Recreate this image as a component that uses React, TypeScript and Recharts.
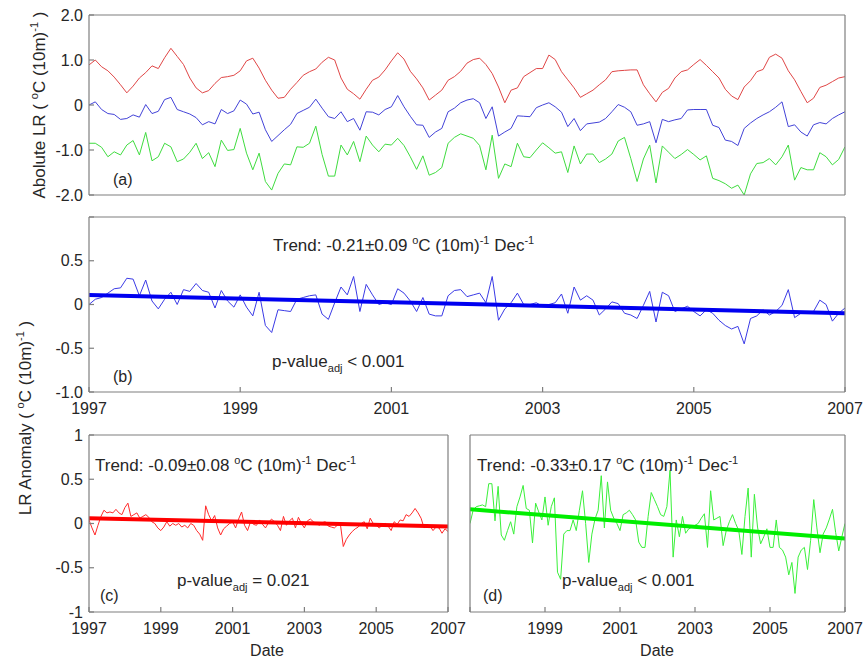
import React from 'react';
import { LineChart, Line, XAxis, YAxis } from 'recharts';

// monthly values, Jan 1997 .. Jan 2007 (121 points)
const RED_ABS = [
  0.89, 1.0, 0.85, 0.76, 0.62, 0.45, 0.27, 0.42, 0.6, 0.72,
  0.87, 0.81, 1.05, 1.26, 1.08, 0.9, 0.6, 0.38, 0.27, 0.32,
  0.48, 0.61, 0.63, 0.66, 0.76, 0.98, 1.04, 0.82, 0.55, 0.33,
  0.15, 0.17, 0.35, 0.5, 0.66, 0.74, 0.8, 0.95, 1.06, 1.0,
  0.6, 0.35, 0.25, 0.13, 0.35, 0.55, 0.62, 0.78, 0.98, 1.16,
  1.02, 0.75, 0.58, 0.38, 0.11, 0.22, 0.33, 0.55, 0.63, 0.75,
  0.93, 1.01, 1.04, 0.9, 0.7, 0.4, 0.05, 0.33, 0.38, 0.63,
  0.72, 0.81, 0.81, 1.11, 1.01, 0.74, 0.56, 0.38, 0.17, 0.25,
  0.33, 0.45, 0.56, 0.74, 0.76, 0.77, 0.78, 0.78, 0.45, 0.25,
  0.07, 0.28, 0.37, 0.6, 0.74, 0.78, 0.9, 1.01, 0.88, 0.74,
  0.6, 0.35, 0.2, 0.12, 0.4, 0.54, 0.74, 0.79, 1.06, 1.13,
  1.04, 0.76, 0.56, 0.3, 0.05, 0.15, 0.39, 0.44, 0.52, 0.6,
  0.63,
];
const BLUE_ABS = [
  0.0, 0.07, -0.1, -0.19, -0.21, -0.32, -0.3, -0.22, -0.27, 0.01,
  -0.19, -0.14, 0.12, 0.17, -0.1, -0.15, -0.2, -0.28, -0.44, -0.37,
  -0.42, -0.1, -0.19, -0.13, 0.11, 0.02, -0.2, -0.16, -0.55, -0.81,
  -0.68, -0.55, -0.43, -0.19, -0.12, -0.05, 0.13, -0.07, -0.26, -0.3,
  -0.15, -0.37, -0.3, -0.56, -0.15, -0.16, -0.22, -0.1, -0.04, 0.21,
  -0.04, -0.25, -0.44, -0.45, -0.72, -0.6, -0.52, -0.15, -0.07, 0.05,
  0.11, 0.14, 0.05, -0.3, -0.04, -0.69, -0.6, -0.52, -0.24, -0.25,
  -0.26, -0.06, 0.0, 0.05, -0.04, -0.16, -0.48, -0.3, -0.57, -0.42,
  -0.4, -0.38, -0.3, -0.15, 0.01, -0.05, -0.15, -0.45, -0.42, -0.37,
  -0.84, -0.32, -0.37, -0.33, -0.3, -0.11, -0.1, -0.1, -0.1, -0.45,
  -0.5, -0.78, -0.81, -0.9, -0.52, -0.4, -0.3, -0.22, -0.15, -0.05,
  0.07, -0.48, -0.44, -0.6, -0.69, -0.44, -0.39, -0.42, -0.3, -0.22,
  -0.15,
];
const GREEN_ABS = [
  -0.85, -0.85, -0.94, -1.15, -1.04, -1.11, -0.89, -0.79, -1.11, -0.61,
  -1.24, -1.15, -0.85, -0.93, -1.26, -1.2, -1.05, -0.85, -1.19, -1.06,
  -1.37, -0.78, -1.01, -0.99, -0.52, -1.07, -1.44, -1.07, -1.7, -1.89,
  -1.52, -1.31, -1.33, -0.93, -0.94, -0.85, -0.47, -1.1, -1.58, -1.58,
  -0.89, -1.11, -0.81, -1.26, -0.69, -0.89, -1.04, -0.87, -0.89, -0.74,
  -0.9, -1.15, -1.43, -1.13, -1.56, -1.5, -1.39, -0.85, -0.72, -0.64,
  -0.69, -0.74, -0.9, -1.44, -0.67, -1.63, -1.31, -1.37, -0.85, -1.15,
  -1.17, -1.0, -0.84, -0.95, -1.07, -1.04, -1.5, -0.91, -1.31, -1.09,
  -1.09, -1.28, -1.2, -1.09, -0.8, -0.72, -1.19, -1.7, -1.2, -0.89,
  -1.73, -0.91, -1.05, -1.19, -1.1, -0.99, -1.1, -1.22, -1.13, -1.63,
  -1.68, -1.75, -1.85, -1.78, -2.0, -1.53, -1.3, -1.28, -1.19, -1.33,
  -1.15, -0.89, -1.67, -1.39, -1.44, -1.44, -1.06, -1.15, -1.33, -1.21,
  -0.93,
];
const BLUE_ANOM = [
  0.0, 0.06, 0.08, 0.13, 0.18, 0.19, 0.3, 0.29, 0.1, 0.28,
  0.04, -0.05, 0.06, 0.14, 0.0, 0.17, 0.15, 0.24, 0.16, 0.14,
  -0.04, 0.16, 0.04, -0.03, 0.11, -0.03, -0.13, 0.14, -0.24, -0.32,
  -0.06, -0.07, -0.08, 0.06, 0.08, 0.1, 0.11, -0.11, -0.17, 0.02,
  0.2, 0.11, 0.32, -0.08, 0.23, 0.11, 0.0, 0.02, 0.0, 0.18,
  0.13, 0.04, -0.08, 0.08, -0.11, -0.13, -0.13, 0.1, 0.16, 0.17,
  0.09, 0.11, 0.13, 0.02, 0.32, -0.18, -0.05, 0.02, 0.13, 0.0,
  0.0, 0.02, -0.02, 0.0, 0.02, 0.12, -0.1, 0.2, 0.05, 0.1,
  0.05, -0.12, -0.05, 0.03, 0.01, -0.1, -0.12, -0.16, -0.01, 0.15,
  -0.2, 0.14, 0.1, -0.08, -0.05, -0.02, -0.08, -0.13, -0.06, -0.1,
  -0.18, -0.24, -0.28, -0.25, -0.45, -0.16, -0.13, -0.06, -0.12, -0.08,
  -0.01, 0.17, -0.15, -0.1, -0.1, -0.08, 0.05, 0.0, -0.19, -0.1,
  -0.04,
];
const RED_ANOM = [
  0.04, -0.05, -0.13, -0.02, 0.08, 0.15, 0.12, 0.13, 0.12, 0.16,
  0.12, 0.1, 0.18, 0.23, 0.08, 0.1, 0.12, 0.06, 0.08, 0.1,
  0.07, 0.02, 0.0, -0.05, -0.08, -0.04, 0.02, -0.03, 0.0, -0.02,
  0.0, -0.04, -0.02, -0.05, 0.0, -0.02, -0.08, -0.12, -0.19, 0.2,
  0.1, 0.03, 0.09, -0.05, -0.13, -0.06, -0.03, 0.0, 0.02, -0.05,
  0.05, 0.13, -0.02, -0.08, 0.02, -0.01, -0.02, 0.04, -0.01, -0.05,
  0.01, 0.05, 0.02, -0.02, -0.08, 0.08, -0.02, 0.03, 0.06, -0.05,
  0.07, 0.0, -0.05, 0.03, 0.05, 0.02, 0.0, -0.02, 0.01, 0.02,
  -0.03, -0.04, -0.05, -0.02, 0.0, -0.26, -0.18, -0.13, -0.09, -0.06,
  -0.04, 0.0, 0.02, -0.06, 0.06, 0.0, -0.02, -0.05, -0.02, 0.0,
  -0.03, -0.08, 0.02, -0.01, 0.04, 0.03, 0.1, 0.08, 0.12, 0.17,
  0.12, 0.06, -0.05, -0.02, -0.03, -0.08, -0.04, -0.05, -0.11, -0.06,
  -0.09,
];
const GREEN_ANOM = [
  0.0, 0.15, 0.19, 0.2, 0.21, 0.19, 0.45, 0.45, 0.03, 0.42,
  -0.13, -0.19, -0.08, 0.02, -0.12, 0.19, 0.3, 0.43, 0.17, 0.15,
  -0.22, 0.23, 0.13, 0.04, 0.3, -0.02, 0.19, 0.29, -0.55, -0.63,
  -0.12, -0.08, -0.08, 0.04, -0.08, 0.15, 0.37, 0.0, -0.44, -0.12,
  0.05, 0.15, 0.54, -0.05, 0.47, 0.15, 0.06, 0.0, -0.08, 0.1,
  0.12, 0.15, 0.1, 0.04, -0.21, -0.27, -0.27, 0.08, 0.35, 0.27,
  0.19, 0.1, 0.08, 0.19, 0.6, -0.38, 0.04, -0.15, 0.08, -0.11,
  -0.06, -0.04, -0.02, 0.0, 0.06, 0.11, -0.27, 0.37, 0.04, 0.06,
  0.08, -0.25, -0.08, 0.02, 0.1, 0.0, -0.08, -0.35, 0.08, 0.4,
  -0.38, 0.33, -0.04, -0.23, -0.15, -0.06, -0.27, -0.27, 0.04, -0.27,
  -0.3, -0.38, -0.58, -0.44, -0.79, -0.38, -0.3, -0.27, -0.52, -0.19,
  0.27, -0.05, -0.33, -0.12, -0.05, 0.05, 0.16, -0.1, -0.31, -0.15,
  0.0,
];

// fitted trend line end points (1997, 2007)
const TREND_YEARS = [1997, 2007];
const TREND_B = [0.11, -0.1];
const TREND_C = [0.06, -0.035];
const TREND_D = [0.16, -0.17];

const YEAR_TICKS = [1997, 1999, 2001, 2003, 2005, 2007];
const ABS_TICKS = [-2, -1, 0, 1, 2];
const ANOM_TICKS = [-1, -0.5, 0, 0.5, 1];

const DATES = RED_ABS.map((_, i) => 1997 + i / 12);

const absRows = DATES.map((date, i) => ({ date, red: RED_ABS[i], blue: BLUE_ABS[i], green: GREEN_ABS[i] }));
const anomRows = DATES.map((date, i) => ({ date, blue: BLUE_ANOM[i], red: RED_ANOM[i], green: GREEN_ANOM[i] }));
const trendRows = (vals: number[]) => TREND_YEARS.map((date, i) => ({ date, value: vals[i] }));

const AXIS_COLOR = '#7f7f7f';
const TEXT_COLOR = '#262626';
const FONT = '"Liberation Sans", Arial, Helvetica, sans-serif';
const PAD = { l: 70, t: 10, r: 20, b: 30 };

type Box = { x: number; y: number; w: number; h: number };
type Series = { key: string; color: string };

interface PanelProps {
  box: Box;
  rows: any[];
  series: Series[];
  trend?: { values: number[]; color: string };
  yDomain: [number, number];
  yTicks: number[];
  yFormat?: (v: number) => string;
  xLabels: boolean;
  xFormat?: (v: number) => string;
}

const tickStyle = { fill: TEXT_COLOR, fontSize: 16, fontFamily: FONT };

function Panel({ box, rows, series, trend, yDomain, yTicks, yFormat, xLabels, xFormat }: PanelProps) {
  const width = box.w + PAD.l + PAD.r;
  const height = box.h + PAD.t + PAD.b;
  const axisProps = {
    axisLine: { stroke: AXIS_COLOR, strokeWidth: 1.2 },
    tickLine: { stroke: AXIS_COLOR, strokeWidth: 1.2 },
    tickSize: -5,
    allowDataOverflow: true,
    interval: 0 as const,
  };
  return (
    <div style={{ position: 'absolute', left: box.x - PAD.l, top: box.y - PAD.t }}>
      <LineChart width={width} height={height} data={rows} margin={{ top: 5, right: 15, bottom: 5, left: 0 }}>
        <XAxis
          dataKey="date"
          type="number"
          domain={[1997, 2007]}
          ticks={YEAR_TICKS}
          height={25}
          tickMargin={16}
          tick={xLabels ? tickStyle : false}
          tickFormatter={xFormat}
          {...axisProps}
        />
        <XAxis
          xAxisId="top"
          orientation="top"
          dataKey="date"
          type="number"
          domain={[1997, 2007]}
          ticks={YEAR_TICKS}
          height={5}
          tick={false}
          {...axisProps}
        />
        <YAxis
          type="number"
          domain={yDomain}
          ticks={yTicks}
          width={70}
          tickMargin={11}
          tick={yFormat ? tickStyle : false}
          tickFormatter={yFormat}
          {...axisProps}
        />
        <YAxis
          yAxisId="right"
          orientation="right"
          type="number"
          domain={yDomain}
          ticks={yTicks}
          width={5}
          tick={false}
          {...axisProps}
        />
        {series.map((s) => (
          <Line
            key={s.key}
            dataKey={s.key}
            stroke={s.color}
            strokeWidth={1}
            dot={false}
            isAnimationActive={false}
          />
        ))}
        {trend && (
          <Line
            data={trendRows(trend.values)}
            dataKey="value"
            stroke={trend.color}
            strokeWidth={4}
            dot={false}
            isAnimationActive={false}
          />
        )}
      </LineChart>
    </div>
  );
}

// text with super/subscripts: level 1 = superscript, -1 = subscript
function Rich({ parts, size }: { parts: [string, number][]; size: number }) {
  const off = (l: number) => (l === 1 ? -7 : l === -1 ? 5 : 0);
  let prev = 0;
  return (
    <>
      {parts.map(([txt, lvl], i) => {
        const dy = off(lvl) - off(prev);
        prev = lvl;
        return (
          <tspan key={i} dy={dy} fontSize={lvl ? size - 6 : size}>
            {txt}
          </tspan>
        );
      })}
    </>
  );
}

const trendText = (s: string): [string, number][] => [
  [`Trend: ${s} `, 0],
  ['o', 1],
  ['C (10m)', 0],
  ['-1', 1],
  [' Dec', 0],
  ['-1', 1],
];
const pText = (s: string): [string, number][] => [
  ['p-value', 0],
  ['adj', -1],
  [` ${s}`, 0],
];
const unitTitle = (s: string): [string, number][] => [
  [`${s} ( `, 0],
  ['o', 1],
  ['C (10m)', 0],
  ['-1', 1],
  [' )', 0],
];

const fmtAbs = (v: number) => (v === 0 ? '0' : v.toFixed(1));
const fmtB = (v: number) => (v === 1 ? '' : v === 0 ? '0' : v.toFixed(1));
const fmtC = (v: number) => String(v);
const fmtD = (v: number) => (v === 1997 ? '' : String(v));

export default function App() {
  const textProps = { fill: TEXT_COLOR, fontFamily: FONT, style: { whiteSpace: 'pre' as const } };
  return (
    <div style={{ position: 'absolute', left: 0, top: 0, width: 863, height: 658, background: '#fff' }}>
      <Panel
        box={{ x: 89, y: 15, w: 756, h: 180 }}
        rows={absRows}
        series={[
          { key: 'red', color: '#e04646' },
          { key: 'blue', color: '#4343d8' },
          { key: 'green', color: '#3fdc3f' },
        ]}
        yDomain={[-2, 2]}
        yTicks={ABS_TICKS}
        yFormat={fmtAbs}
        xLabels={false}
      />
      <Panel
        box={{ x: 89, y: 217, w: 756, h: 175 }}
        rows={anomRows}
        series={[{ key: 'blue', color: '#3a3ae6' }]}
        trend={{ values: TREND_B, color: '#0000f0' }}
        yDomain={[-1, 1]}
        yTicks={ANOM_TICKS}
        yFormat={fmtB}
        xLabels
      />
      <Panel
        box={{ x: 89, y: 435, w: 359, h: 177 }}
        rows={anomRows}
        series={[{ key: 'red', color: '#ff2a2a' }]}
        trend={{ values: TREND_C, color: '#ff0000' }}
        yDomain={[-1, 1]}
        yTicks={ANOM_TICKS}
        yFormat={fmtC}
        xLabels
      />
      <Panel
        box={{ x: 470, y: 435, w: 375, h: 177 }}
        rows={anomRows}
        series={[{ key: 'green', color: '#3af03a' }]}
        trend={{ values: TREND_D, color: '#00ee00' }}
        yDomain={[-1, 1]}
        yTicks={ANOM_TICKS}
        xLabels
        xFormat={fmtD}
      />
      <svg width={863} height={658} style={{ position: 'absolute', left: 0, top: 0, pointerEvents: 'none' }}>
        <text transform="translate(45,105) rotate(-90)" textAnchor="middle" {...textProps}>
          <Rich parts={unitTitle('Abolute LR')} size={17} />
        </text>
        <text transform="translate(31,418) rotate(-90)" textAnchor="middle" {...textProps}>
          <Rich parts={unitTitle('LR Anomaly')} size={17} />
        </text>

        <text x={113} y={185} fontSize={16} {...textProps}>(a)</text>
        <text x={113} y={382} fontSize={16} {...textProps}>(b)</text>
        <text x={100} y={601} fontSize={16} {...textProps}>(c)</text>
        <text x={483} y={601} fontSize={16} {...textProps}>(d)</text>

        <text x={273} y={251} {...textProps}>
          <Rich parts={trendText('-0.21±0.09')} size={17} />
        </text>
        <text x={272} y={367} {...textProps}>
          <Rich parts={pText('< 0.001')} size={17} />
        </text>
        <text x={95} y={471} {...textProps}>
          <Rich parts={trendText('-0.09±0.08')} size={17} />
        </text>
        <text x={177} y={586} {...textProps}>
          <Rich parts={pText('= 0.021')} size={17} />
        </text>
        <text x={477} y={471} {...textProps}>
          <Rich parts={trendText('-0.33±0.17')} size={17} />
        </text>
        <text x={562} y={586} {...textProps}>
          <Rich parts={pText('< 0.001')} size={17} />
        </text>

        <text x={267} y={656} textAnchor="middle" fontSize={16} {...textProps}>Date</text>
        <text x={657} y={656} textAnchor="middle" fontSize={16} {...textProps}>Date</text>
      </svg>
    </div>
  );
}
